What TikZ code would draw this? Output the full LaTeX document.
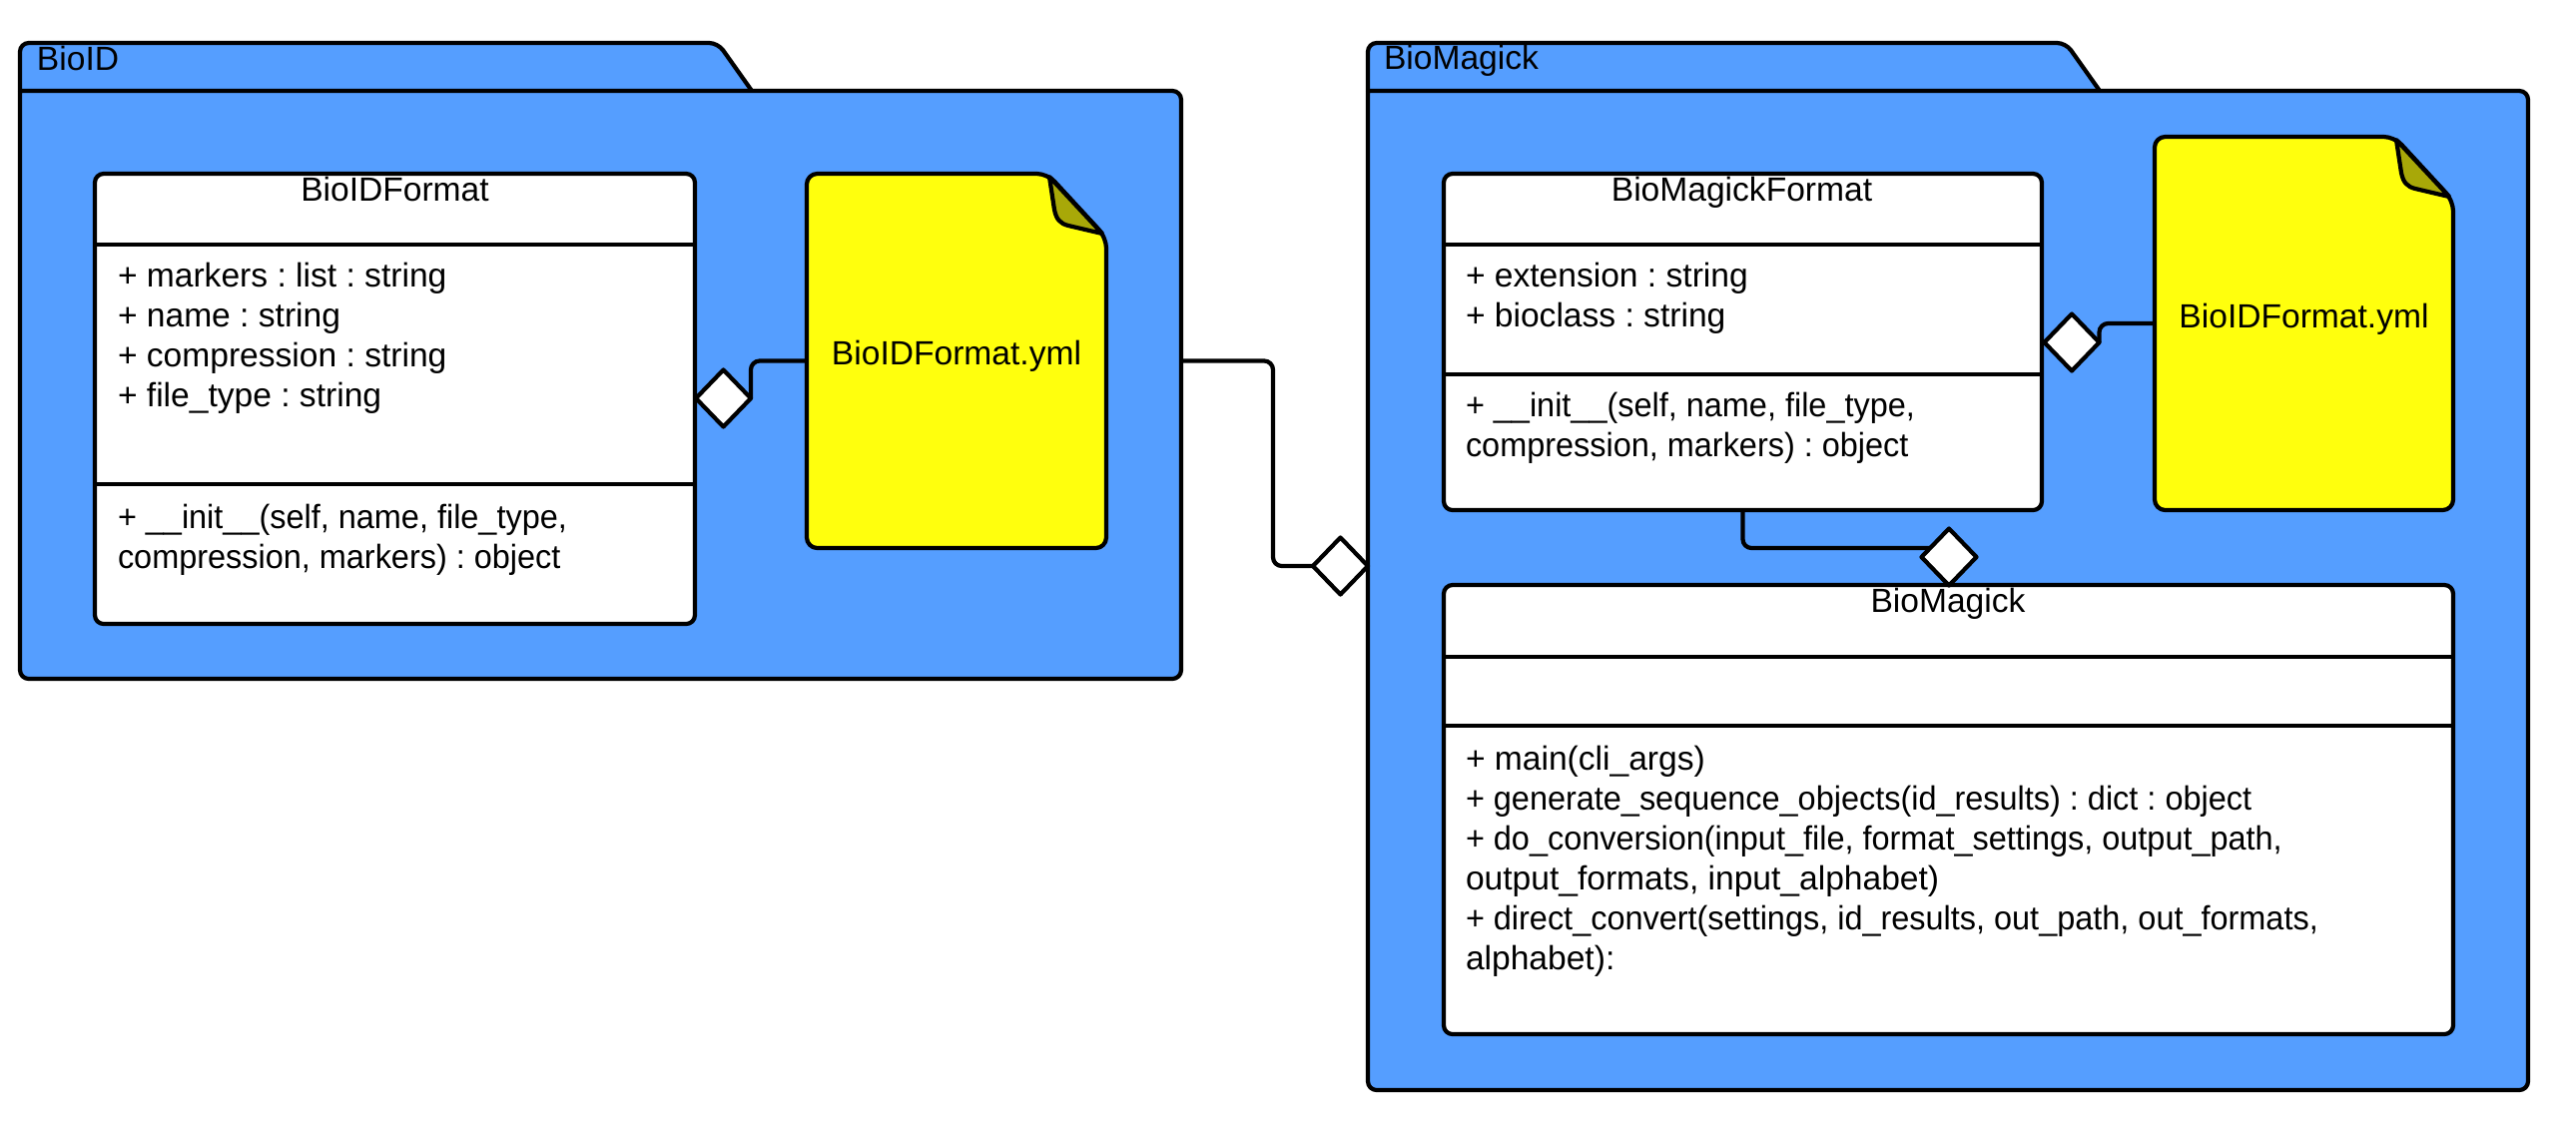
\documentclass[tikz,border=0pt]{standalone}
\usepackage{fontspec}
\setmainfont{Liberation Sans}
\usepackage{xcolor}
\usetikzlibrary{calc, fit, shapes.geometric}
\definecolor{pkgblue}{HTML}{559EFF}
\definecolor{sheetyellow}{HTML}{FFFF0D}
\definecolor{sheetfold}{HTML}{A8A808}
\frenchspacing
\tikzset{
    uml/.style={line width=1.2pt, draw=black, line join=round},
    pkg/.style={uml, fill=pkgblue, rounded corners=2.5pt},
    pkgframe/.style={inner sep=0pt, outer sep=0pt},
    classbox/.style={uml, fill=white, rounded corners=2.5pt, inner sep=0pt, outer sep=0pt},
    sheetbox/.style={inner sep=0pt, outer sep=0pt},
    sheet/.style={uml, fill=sheetyellow, rounded corners=3pt},
    fold/.style={uml, fill=sheetfold},
    link/.style={uml, rounded corners=2.5pt},
    aggr/.style={uml, fill=white, shape=diamond, aspect=1, inner sep=0pt, outer sep=0pt, minimum width=0.55cm, minimum height=0.57cm},
    txt/.style={font=\fontsize{9.55}{11.38}\selectfont, inner sep=0pt, outer sep=0pt},
    title/.style={txt, anchor=base},
    members/.style={txt, anchor=north west, align=left, execute at begin node=\strut}
}
% the long wrapped lines are set a little narrower
\newcommand{\tightline}[1]{{\addfontfeature{FakeStretch=0.966}#1}}
\newcommand{\drawsheet}[1]{
    \draw[sheet] (#1.south west) -- (#1.north west) -- ($(#1.north east)+(-59,0)$) -- ($(#1.north east)+(0,64)$) -- (#1.south east) -- cycle;
    \draw[fold] ($(#1.north east)+(-57,3)$) -- ($(#1.north east)+(-52,36)$) .. controls ($(#1.north east)+(-50,46)$) and ($(#1.north east)+(-46,50)$) .. ($(#1.north east)+(-38,52)$) -- ($(#1.north east)+(-4,60)$) -- cycle;
}

\begin{document}
\begin{tikzpicture}[x=0.01cm, y=-0.01cm]
    \useasboundingbox (0,0) rectangle (2580,1135);

    % left package
    \node[pkgframe, fit={(20,43) (1183,680)}] (bioid) {};
    \draw[pkg] (753,91) -- (719,43) -- (20,43) -- (20,91);
    \draw[pkg] (20,91) -- (1183,91) -- (1183,680) -- (20,680) -- (20,91);
    \node[txt, anchor=base west] (bioidname) at (37,70) {BioID};

    % right package
    \node[pkgframe, fit={(1370,43) (2532,1092)}] (biomagick) {};
    \draw[pkg] (2103,91) -- (2069,43) -- (1370,43) -- (1370,91);
    \draw[pkg] (1370,91) -- (2532,91) -- (2532,1092) -- (1370,1092) -- (1370,91);
    \node[txt, anchor=base west] (biomagickname) at (1386,69) {BioMagick};

    % classes
    \node[classbox, fit={(95,174) (696,625)}] (idformat) {};
    \draw[uml] (idformat.west |- 0,245) -- (idformat.east |- 0,245);
    \draw[uml] (idformat.west |- 0,485) -- (idformat.east |- 0,485);
    \node[title] (idformatname) at (395.5,201) {BioIDFormat};
    \node[members] (idformatattr) at (118,263) {+ markers : list : string\\+ name : string\\+ compression : string\\+ file\_type : string};
    \node[members] (idformatops) at (118,505) {\tightline{+ \_\_init\_\_(self, name, file\_type,}\\\tightline{compression, markers) : object}};

    \node[classbox, fit={(1446,174) (2045,511)}] (magickformat) {};
    \draw[uml] (magickformat.west |- 0,245) -- (magickformat.east |- 0,245);
    \draw[uml] (magickformat.west |- 0,375) -- (magickformat.east |- 0,375);
    \node[title] (magickformatname) at (1744.5,201) {BioMagickFormat};
    \node[members] (magickformatattr) at (1468,263) {+ extension : string\\+ bioclass : string};
    \node[members] (magickformatops) at (1468,393) {\tightline{+ \_\_init\_\_(self, name, file\_type,}\\\tightline{compression, markers) : object}};

    \node[classbox, fit={(1446,586) (2457,1036)}] (magick) {};
    \draw[uml] (magick.west |- 0,658) -- (magick.east |- 0,658);
    \draw[uml] (magick.west |- 0,727) -- (magick.east |- 0,727);
    \node[title] (magickname) at (1951,613) {BioMagick};
    \node[members] (magickops) at (1468,747) {+ main(cli\_args)\\\tightline{+ generate\_sequence\_objects(id\_results) : dict : object}\\\tightline{+ do\_conversion(input\_file, format\_settings, output\_path,}\\output\_formats, input\_alphabet)\\\tightline{+ direct\_convert(settings, id\_results, out\_path, out\_formats,}\\alphabet):};

    % yaml sheets
    \node[sheetbox, fit={(808,174) (1108,549)}] (idsheet) {};
    \drawsheet{idsheet}
    \node[title] (idsheetname) at (958,365) {BioIDFormat.yml};
    \node[sheetbox, fit={(2158,137) (2457,511)}] (magicksheet) {};
    \drawsheet{magicksheet}
    \node[title] (magicksheetname) at (2307.5,328) {BioIDFormat.yml};

    % aggregation diamonds
    \node[aggr] (idaggr) at (724.5,399) {};
    \node[aggr] (pkgaggr) at (1342.5,567) {};
    \node[aggr] (sheetaggr) at (2075,343) {};
    \node[aggr] (classaggr) at (1952,558) {};

    \draw[link] (idsheet.west) -| (idaggr.east);
    \draw[link] (magicksheet.west) -| (sheetaggr.east);
    \draw[link] (bioid.east) -| ($(pkgaggr.west)+(-40,0)$) -- (pkgaggr.west);
    \draw[link] (magickformat.south) |- ($(classaggr.west)+(9,-9)$);
\end{tikzpicture}
\end{document}
